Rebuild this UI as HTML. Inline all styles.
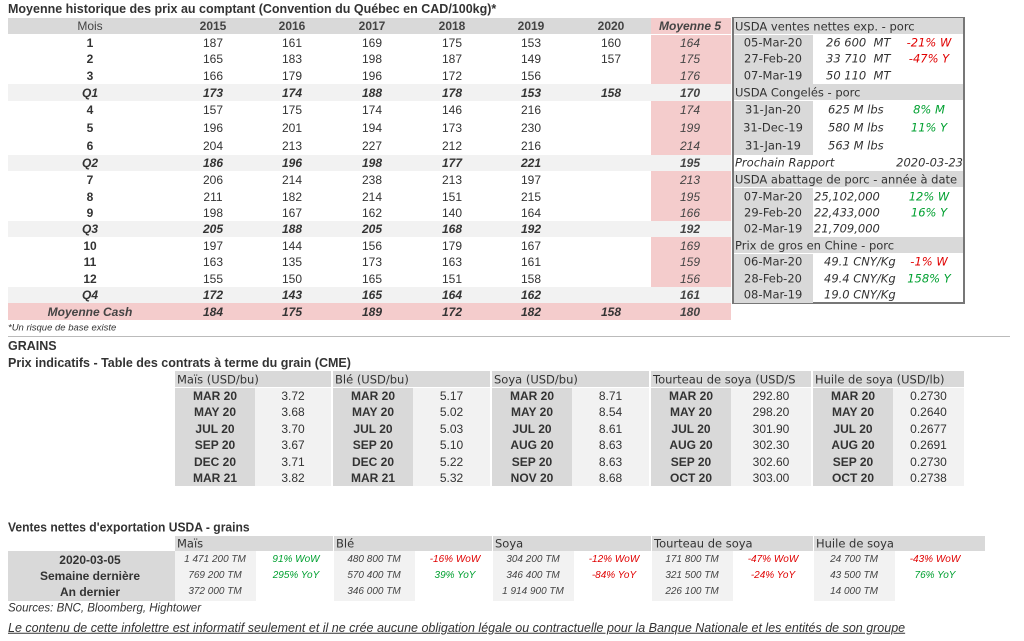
<!DOCTYPE html>
<html><head><meta charset="utf-8">
<style>
body{margin:0;width:1024px;height:641px;background:#fff;position:relative;overflow:hidden;font-family:"Liberation Sans",sans-serif;color:#222}
.a{position:absolute;white-space:nowrap;box-sizing:border-box}
.t{position:absolute;white-space:nowrap;line-height:1}
.d{font-family:"DejaVu Sans",sans-serif}
</style></head>
<body>
<div id="root"></div>
<script>
var root=document.getElementById('root');
function box(x,y,w,h,bg,name){var e=document.createElement('div');e.className='a';


e.style.cssText='left:'+x+'px;top:'+y+'px;width:'+w+'px;height:'+h+'px;background:'+bg;root.appendChild(e);return e;}
function txt(x,y,s,css,align,name,cls){var e=document.createElement('div');e.className='t'+(cls?' '+cls:'');


e.textContent=s;var tr=align==='c'?'translate(-50%,-50%)':align==='r'?'translate(-100%,-50%)':'translateY(-50%)';
e.style.cssText='left:'+x+'px;top:'+y+'px;transform:'+tr+';'+(css||'');root.appendChild(e);return e;}

// ---------- Historical table data ----------
var years=['2015','2016','2017','2018','2019','2020'];
var rowLabels=['1','2','3','Q1','4','5','6','Q2','7','8','9','Q3','10','11','12','Q4','Moyenne Cash'];
var v2015=[187,165,166,173,157,196,204,186,206,211,198,205,197,163,155,172,184];
var v2016=[161,183,179,174,175,201,213,196,214,182,167,188,144,135,150,143,175];
var v2017=[169,198,196,188,174,194,227,198,238,214,162,205,156,173,165,165,189];
var v2018=[175,187,172,178,146,173,212,177,213,151,140,168,179,163,151,164,172];
var v2019=[153,149,156,153,216,230,216,221,197,215,164,192,167,161,158,162,182];
var v2020=[160,157,'',158,'','','','','','','','','','','','',158];
var avg5=[164,175,176,170,174,199,214,195,213,195,166,192,169,159,156,161,180];
var rowTops=[35,51,67,84,101,119,137,155,171,188,205,221,237,254,270,287,303,320];
var colX=[213,292,372,452,531,611];

txt(8,9,'Moyenne historique des prix au comptant (Convention du Québec en CAD/100kg)*','font-weight:bold;font-size:12.5px;color:#333','l','hist-title');
box(8,18,643,16,'#d9d9d9','hist-header-bg');
box(651,18,80,16,'#f4cccc','avg5-header-bg');
txt(90,26,'Mois','font-size:12px;color:#444','c','mois-header');
years.forEach(function(y,i){txt(colX[i],26,y,'font-size:12px;font-weight:bold;color:#444','c','year-header-'+y);});
txt(690,26,'Moyenne 5','font-size:12px;font-weight:bold;font-style:italic;color:#444','c','avg5-header');
var series=[v2015,v2016,v2017,v2018,v2019,v2020];
rowLabels.forEach(function(l,r){
  var y0=rowTops[r],h=rowTops[r+1]-y0,cy=y0+h/2,q=l[0]==='Q',cash=l==='Moyenne Cash';
  if(cash){box(8,y0,723,h,'#f4cccc','cash-row-bg');}
  else if(q){box(8,y0,723,h,'#f2f2f2','quarter-row-bg-'+l);}
  else{box(651,y0,80,h,'#f4cccc','avg5-cell-bg-'+l);}
  var st=(q||cash)?'font-weight:bold;font-style:italic;':'';
  var lc=cash?'font-weight:bold;font-style:italic;color:#444;':(q?'':'font-weight:bold;');
  txt(90,cy,l,'font-size:12px;color:#333;'+st+lc,'c','row-label-'+l);
  series.forEach(function(s,i){if(s[r]!=='')txt(colX[i],cy,String(s[r]),'font-size:12px;color:#333;'+st,'c','cell-'+years[i]+'-'+l);});
  txt(690,cy,String(avg5[r]),'font-size:12px;color:#444;font-style:italic;'+(q||cash?'font-weight:bold;':''),'c','avg5-'+l);
});

// ---------- Right USDA box ----------
var b=box(732,17,233,287,'transparent','usda-box');b.style.border='2px solid #777';
var sections=[
 {title:'USDA ventes nettes exp. - porc',y:18,rows:[['05-Mar-20','26 600  MT','-21% W','r'],['27-Feb-20','33 710  MT','-47% Y','r'],['07-Mar-19','50 110  MT','','']],rt:[35,51,67,84],vx:826},
 {title:'USDA Congelés - porc',y:84,rows:[['31-Jan-20','625 M lbs','8% M','g'],['31-Dec-19','580 M lbs','11% Y','g'],['31-Jan-19','563 M lbs','','']],rt:[101,119,137,155],vx:828},
 {title:'USDA abattage de porc - année à date',y:171,rows:[['07-Mar-20','25,102,000','12% W','g'],['29-Feb-20','22,433,000','16% Y','g'],['02-Mar-19','21,709,000','','']],rt:[188,205,221,237],vx:814},
 {title:'Prix de gros en Chine - porc',y:237,rows:[['06-Mar-20','49.1 CNY/Kg','-1% W','r'],['28-Feb-20','49.4 CNY/Kg','158% Y','g'],['08-Mar-19','19.0 CNY/Kg','','']],rt:[254,270,287,303],vx:824}
];
sections.forEach(function(s,k){
  box(734,s.y,229,16,'#d9d9d9','usda-section-header-'+k);
  txt(735,s.y+8.5,s.title,'font-size:11.5px;color:#333','l','usda-section-title-'+k,'d');
  box(734,s.rt[0],79,s.rt[3]-s.rt[0],'#d9d9d9','usda-date-col-'+k);
  s.rows.forEach(function(r,i){var cy=(s.rt[i]+s.rt[i+1])/2;
    txt(773,cy,r[0],'font-size:11.5px;color:#333','c','usda-date-'+k+'-'+i,'d');
    txt(s.vx,cy,r[1],'font-size:11.5px;font-style:italic;color:#333;white-space:pre','l','usda-value-'+k+'-'+i,'d');
    if(r[2])txt(929,cy,r[2],'font-size:11.5px;font-style:italic;color:'+(r[3]==='r'?'#e00000':'#00a030'),'c','usda-change-'+k+'-'+i,'d');
  });
});
txt(735,163,'Prochain Rapport','font-size:11.5px;font-style:italic;color:#333','l','next-report-label','d');
txt(963,163,'2020-03-23','font-size:11.5px;font-style:italic;color:#333','r','next-report-date','d');

// ---------- Footnote & grains ----------
txt(8,328,'*Un risque de base existe','font-size:9.5px;font-style:italic;color:#333','l','footnote');
box(8,336,1002,1,'#bbb','separator-line');
txt(8,346,'GRAINS','font-size:12.5px;font-weight:bold;color:#333','l','grains-title');
txt(8,363,'Prix indicatifs - Table des contrats à terme du grain (CME)','font-size:12.5px;font-weight:bold;color:#333','l','futures-title');

var gNames=['Maïs (USD/bu)','Blé (USD/bu)','Soya (USD/bu)','Tourteau de soya (USD/S','Huile de soya (USD/lb)'];
var gContracts=[['MAR 20','MAY 20','JUL 20','SEP 20','DEC 20','MAR 21'],['MAR 20','MAY 20','JUL 20','SEP 20','DEC 20','MAR 21'],['MAR 20','MAY 20','JUL 20','AUG 20','SEP 20','NOV 20'],['MAR 20','MAY 20','JUL 20','AUG 20','SEP 20','OCT 20'],['MAR 20','MAY 20','JUL 20','AUG 20','SEP 20','OCT 20']];
var gPrices=[['3.72','3.68','3.70','3.67','3.71','3.82'],['5.17','5.02','5.03','5.10','5.22','5.32'],['8.71','8.54','8.61','8.63','8.63','8.68'],['292.80','298.20','301.90','302.30','302.60','303.00'],['0.2730','0.2640','0.2677','0.2691','0.2730','0.2738']];
var gX=[175,333,492,651,813];
box(175,371,789,16,'#d9d9d9','futures-header-bg');
gNames.forEach(function(n,g){var x=gX[g];
  if(g>0)box(x-2,371,2,116,'#fff','futures-group-gap-'+g);
  txt(x+2,379.5,n,'font-size:11.5px;color:#333','l','futures-group-title-'+g,'d');
  var w=(g<4?gX[g+1]-2:964)-x;
  box(x,388,80,98,'#d9d9d9','futures-contract-col-'+g);
  box(x+80,388,w-80,98,'#f2f2f2','futures-price-col-'+g);
  gContracts[g].forEach(function(c,i){var cy=396+i*16.4;
    txt(x+40,cy,c,'font-size:12px;font-weight:bold;color:#333','c','contract-'+g+'-'+i);
    txt(x+80+(w-80)/2,cy,gPrices[g][i],'font-size:12px;color:#333','c','price-'+g+'-'+i);
  });
});

// ---------- Export sales ----------
txt(8,527,"Ventes nettes d'exportation USDA - grains",'font-size:13px;font-weight:bold;color:#333;transform:translateY(-50%) scaleX(0.93);transform-origin:left','l','exports-title');
var eNames=['Maïs','Blé','Soya','Tourteau de soya','Huile de soya'];
var eRowLabels=['2020-03-05','Semaine dernière','An dernier'];
var eVolumes=[['1 471 200 TM','769 200 TM','372 000 TM'],['480 800 TM','570 400 TM','346 000 TM'],['304 200 TM','346 400 TM','1 914 900 TM'],['171 800 TM','321 500 TM','226 100 TM'],['24 700 TM','43 500 TM','14 000 TM']];
var eWoW=['91% WoW','-16% WoW','-12% WoW','-47% WoW','-43% WoW'];
var eYoY=['295% YoY','39% YoY','-84% YoY','-24% YoY','76% YoY'];
var eX=[175,334,493,652,814];
box(175,536,810,15,'#d9d9d9','exports-header-bg');
box(8,551,167,50,'#d9d9d9','exports-label-col');
eRowLabels.forEach(function(l,i){txt(90,560+i*16,l,'font-size:12px;font-weight:bold;color:#333','c','exports-row-label-'+i);});
eNames.forEach(function(n,g){var x=eX[g];
  if(g>0)box(x-1,536,1,15,'#fff','exports-group-gap-'+g);
  txt(x+2,543.5,n,'font-size:11.5px;color:#333','l','exports-group-title-'+g,'d');
  box(x,551,81,50,'#f2f2f2','exports-volume-col-'+g);
  eVolumes[g].forEach(function(v,i){txt(x+40,560+i*16,v,'font-size:10px;font-style:italic;color:#444','c','exports-volume-'+g+'-'+i);});
  [eWoW[g],eYoY[g]].forEach(function(p,i){var neg=p[0]==='-';
    txt(x+121,560+i*16,p,'font-size:10px;font-style:italic;color:'+(neg?'#e00000':'#00a030'),'c','exports-change-'+g+'-'+i);});
});
txt(8,609,'Sources: BNC, Bloomberg, Hightower','font-size:11.5px;font-style:italic;color:#333','l','sources');
txt(8,628,'Le contenu de cette infolettre est informatif seulement et il ne crée aucune obligation légale ou contractuelle pour la Banque Nationale et les entités de son groupe ','font-size:12.5px;font-style:italic;text-decoration:underline;color:#333','l','disclaimer');
</script>
</body></html>
